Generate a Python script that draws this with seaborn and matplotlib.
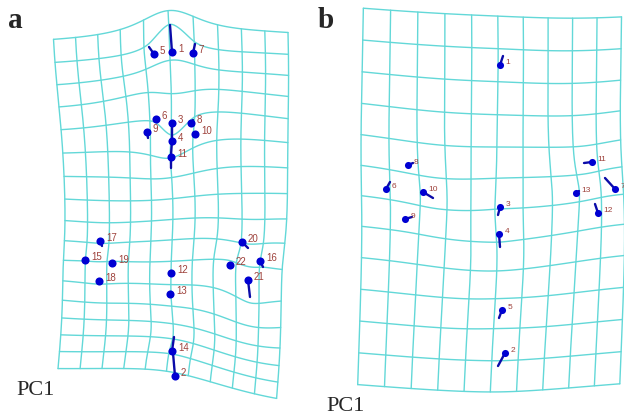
import numpy as np
import pandas as pd
import matplotlib
matplotlib.use("Agg")
import matplotlib.pyplot as plt
import seaborn as sns

# landmark positions (mean shape) and lollipop vectors
a_ids = list(range(1, 23))
a_x = [172, 175, 172, 172, 154, 156, 193, 191, 147, 195, 171,
       171, 170, 172, 85, 260, 100, 99, 112, 242, 248, 230]
a_y = [52, 376, 123, 141, 54, 119, 53, 123, 132, 134, 157,
       273, 294, 351, 260, 261, 241, 281, 263, 242, 280, 265]
a_dx = [-2, -2, 0, -1, -5, 0, 2, 2, 1, 1, 0,
        0, 0, 2, 0, 3, 2, 0, 0, 6, 2, 0]
a_dy = [-27, -23, 15, 14, -7, 0, -9, -3, 6, -1, 11,
        0, 0, -14, 0, 6, 5, 0, 0, 6, 17, 0]

b_ids = list(range(1, 14))
b_x = [500, 505, 500, 499, 502, 386, 615, 408, 405, 423, 592, 598, 576]
b_y = [65, 353, 207, 234, 310, 189, 189, 165, 219, 192, 162, 213, 193]
b_dx = [3, -7, -2, 1, -3, 4, -10, 5, 7, 10, -8, -3, 3]
b_dy = [-9, 13, 8, 13, 8, -7, -11, -2, -2, 6, 1, -9, -2]

GRID = "#63d8d8"
STICK = "#0b0ba8"
DOT = "#0000d2"
LABEL = "#9e423c"


def tps_kernel(r):
    with np.errstate(divide="ignore", invalid="ignore"):
        k = r ** 2 * np.log(r)
    return np.nan_to_num(k)


def tps_warp(src, dst, pts):
    # thin-plate spline taking src landmarks onto dst, applied to pts
    n = len(src)
    K = tps_kernel(np.linalg.norm(src[:, None] - src[None], axis=2))
    P = np.hstack([np.ones((n, 1)), src])
    L = np.zeros((n + 3, n + 3))
    L[:n, :n] = K
    L[:n, n:] = P
    L[n:, :n] = P.T
    Y = np.zeros((n + 3, 2))
    Y[:n] = dst
    W = np.linalg.lstsq(L, Y, rcond=None)[0]
    Kp = tps_kernel(np.linalg.norm(pts[:, None] - src[None], axis=2))
    Pp = np.hstack([np.ones((len(pts), 1)), pts])
    return Kp @ W[:n] + Pp @ W[n:]


def grid_frame(src, dst, x0, x1, ncol, y0, y1, nrow):
    parts = []
    line = 0
    for yv in np.linspace(y0, y1, nrow + 1):
        xs = np.linspace(x0, x1, 120)
        pts = np.column_stack([xs, np.full_like(xs, yv)])
        w = tps_warp(src, dst, pts)
        parts.append(pd.DataFrame({"x": w[:, 0], "y": w[:, 1], "line": line}))
        line += 1
    for xv in np.linspace(x0, x1, ncol + 1):
        ys = np.linspace(y0, y1, 160)
        pts = np.column_stack([np.full_like(ys, xv), ys])
        w = tps_warp(src, dst, pts)
        parts.append(pd.DataFrame({"x": w[:, 0], "y": w[:, 1], "line": line}))
        line += 1
    return pd.concat(parts, ignore_index=True)


def draw_panel(ax, ids, xs, ys, dxs, dys, box, grid_scale, dot_size, font_size):
    src = np.column_stack([xs, ys]).astype(float)
    vec = np.column_stack([dxs, dys]).astype(float)
    dst = src + vec
    grid = grid_frame(src, src + grid_scale * vec, *box)
    sns.lineplot(data=grid, x="x", y="y", units="line", estimator=None,
                 sort=False, color=GRID, lw=1.0, ax=ax, legend=False)

    sticks = pd.DataFrame({
        "x": np.ravel(np.column_stack([src[:, 0], dst[:, 0]])),
        "y": np.ravel(np.column_stack([src[:, 1], dst[:, 1]])),
        "id": np.repeat(ids, 2),
    })
    sns.lineplot(data=sticks, x="x", y="y", units="id", estimator=None,
                 sort=False, color=STICK, lw=1.7, ax=ax, legend=False)
    sns.scatterplot(x=xs, y=ys, s=dot_size, color=DOT, linewidth=0,
                    ax=ax, zorder=4, legend=False)
    for i, x, y in zip(ids, xs, ys):
        ax.annotate(str(i), (x, y), xytext=(4.2, 2), textcoords="offset points",
                    fontsize=font_size, color=LABEL, va="center", ha="left",
                    family="Liberation Sans", zorder=5)


sns.set_style("white")
plt.rcParams["font.family"] = ["Liberation Serif", "DejaVu Serif"]

fig = plt.figure(figsize=(6.24, 4.16), dpi=100)
ax_a = fig.add_axes([0, 0, 0.5, 1])
ax_b = fig.add_axes([0.5, 0, 0.5, 1])

draw_panel(ax_a, a_ids, a_x, a_y, a_dx, a_dy,
           (64, 278, 10, 28, 401, 16), 1.0, 34, 7)
draw_panel(ax_b, b_ids, b_x, b_y, b_dx, b_dy,
           (360, 632, 10, 26, 382, 12), 0.65, 26, 6)

ax_a.set_xlim(0, 312)
ax_a.set_ylim(416, 0)
ax_b.set_xlim(312, 624)
ax_b.set_ylim(416, 0)
for ax in (ax_a, ax_b):
    ax.set_axis_off()

ax_a.text(8, 28, "a", fontsize=21, fontweight="bold")
ax_b.text(318, 28, "b", fontsize=21, fontweight="bold")
ax_a.text(16, 395, "PC1", fontsize=16)
ax_b.text(326, 411, "PC1", fontsize=16)

fig.savefig("out.png", dpi=100)
